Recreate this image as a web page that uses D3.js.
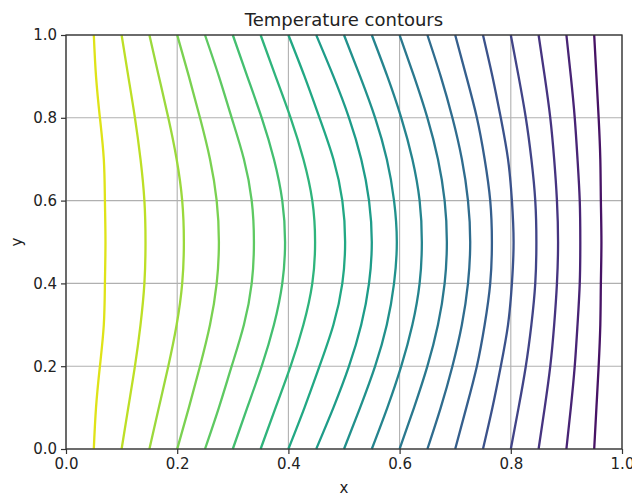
<!DOCTYPE html>
<html>
<head>
<meta charset="utf-8">
<script src="https://cdn.jsdelivr.net/npm/d3@7"></script>
<style>
  body { margin: 0; background: #fff; }
  svg { display: block; font-family: "DejaVu Sans", sans-serif; }
</style>
</head>
<body>
<svg id="chart" width="632" height="495"></svg>
<script>

var yLevels = [0, 0.1, 0.2, 0.3, 0.4, 0.5, 0.6, 0.7, 0.8, 0.9, 1.0];

// temperature value of each contour line (1 = hot side at x=0)
var tempLevels = [0.95, 0.90, 0.85, 0.80, 0.75, 0.70, 0.65, 0.60, 0.55, 0.50,
                  0.45, 0.40, 0.35, 0.30, 0.25, 0.20, 0.15, 0.10, 0.05];

// x position of each contour at the y levels above
var contourX = [
  [0.050, 0.054, 0.061, 0.068, 0.070, 0.071, 0.070, 0.068, 0.061, 0.054, 0.050],
  [0.100, 0.112, 0.124, 0.134, 0.141, 0.143, 0.141, 0.134, 0.124, 0.112, 0.100],
  [0.150, 0.167, 0.184, 0.199, 0.209, 0.212, 0.209, 0.199, 0.184, 0.167, 0.150],
  [0.200, 0.221, 0.241, 0.259, 0.271, 0.275, 0.271, 0.259, 0.241, 0.221, 0.200],
  [0.250, 0.275, 0.298, 0.320, 0.334, 0.338, 0.334, 0.320, 0.298, 0.275, 0.250],
  [0.300, 0.326, 0.352, 0.374, 0.389, 0.394, 0.389, 0.374, 0.352, 0.326, 0.300],
  [0.350, 0.377, 0.404, 0.427, 0.443, 0.448, 0.443, 0.427, 0.404, 0.377, 0.350],
  [0.400, 0.429, 0.456, 0.481, 0.497, 0.502, 0.497, 0.481, 0.456, 0.429, 0.400],
  [0.450, 0.481, 0.509, 0.531, 0.545, 0.550, 0.545, 0.531, 0.509, 0.481, 0.450],
  [0.500, 0.529, 0.556, 0.577, 0.590, 0.595, 0.590, 0.577, 0.556, 0.529, 0.500],
  [0.550, 0.578, 0.603, 0.623, 0.636, 0.640, 0.636, 0.623, 0.603, 0.578, 0.550],
  [0.600, 0.626, 0.650, 0.669, 0.681, 0.685, 0.681, 0.669, 0.650, 0.626, 0.600],
  [0.650, 0.674, 0.695, 0.712, 0.723, 0.727, 0.723, 0.712, 0.695, 0.674, 0.650],
  [0.700, 0.720, 0.739, 0.753, 0.763, 0.766, 0.763, 0.753, 0.739, 0.720, 0.700],
  [0.750, 0.767, 0.782, 0.795, 0.802, 0.805, 0.802, 0.795, 0.782, 0.767, 0.750],
  [0.800, 0.814, 0.827, 0.837, 0.844, 0.846, 0.844, 0.837, 0.827, 0.814, 0.800],
  [0.850, 0.861, 0.871, 0.878, 0.883, 0.885, 0.883, 0.878, 0.871, 0.861, 0.850],
  [0.900, 0.908, 0.915, 0.920, 0.924, 0.925, 0.924, 0.920, 0.915, 0.908, 0.900],
  [0.950, 0.954, 0.958, 0.961, 0.962, 0.963, 0.962, 0.961, 0.958, 0.954, 0.950]
];

var ticks = [0, 0.2, 0.4, 0.6, 0.8, 1.0];

var margin = {left: 66, right: 10, top: 35, bottom: 46};
var width = 632, height = 495;

var svg = d3.select('#chart');

var x = d3.scaleLinear().domain([0, 1]).range([margin.left, width - margin.right]);
var y = d3.scaleLinear().domain([0, 1]).range([height - margin.bottom, margin.top]);

// grid
var grid = svg.append('g').attr('stroke', '#b0b0b0').attr('stroke-width', 1.1);
grid.selectAll('line.gx').data(ticks).enter().append('line')
    .attr('x1', function(d){return x(d)}).attr('x2', function(d){return x(d)})
    .attr('y1', y(0)).attr('y2', y(1));
grid.selectAll('line.gy').data(ticks).enter().append('line')
    .attr('y1', function(d){return y(d)}).attr('y2', function(d){return y(d)})
    .attr('x1', x(0)).attr('x2', x(1));

// contours
var line = d3.line()
    .x(function(d){return x(d[0])})
    .y(function(d){return y(d[1])})
    .curve(d3.curveNatural);

svg.append('g').selectAll('path').data(contourX).enter().append('path')
    .attr('d', function(xs){
        return line(xs.map(function(v, i){return [v, yLevels[i]]}));
    })
    .attr('fill', 'none')
    .attr('stroke', function(d, i){return d3.interpolateViridis(tempLevels[i])})
    .attr('stroke-width', 2.3);

// axes
var xAxis = d3.axisBottom(x).tickValues(ticks).tickFormat(d3.format('.1f')).tickSizeOuter(0).tickSize(5).tickPadding(4);
var yAxis = d3.axisLeft(y).tickValues(ticks).tickFormat(d3.format('.1f')).tickSizeOuter(0).tickSize(5).tickPadding(4);

var gx = svg.append('g').attr('transform', 'translate(0,' + y(0) + ')').call(xAxis);
var gy = svg.append('g').attr('transform', 'translate(' + x(0) + ',0)').call(yAxis);
[gx, gy].forEach(function(g){
    g.selectAll('.domain').remove();
    g.selectAll('line').attr('stroke', '#333').attr('stroke-width', 1.2);
    g.selectAll('text').attr('fill', '#222').style('font-size', '15px').style('font-family', '"DejaVu Sans", sans-serif');
});

// frame
svg.append('rect')
    .attr('x', x(0)).attr('y', y(1))
    .attr('width', x(1) - x(0)).attr('height', y(0) - y(1))
    .attr('fill', 'none').attr('stroke', '#333').attr('stroke-width', 1.3);

svg.append('text').attr('x', (x(0) + x(1)) / 2).attr('y', 26)
    .attr('text-anchor', 'middle').style('font-size', '18px').attr('fill', '#222')
    .text('Temperature contours');

svg.append('text').attr('x', (x(0) + x(1)) / 2).attr('y', 493)
    .attr('text-anchor', 'middle').style('font-size', '15px').attr('fill', '#222')
    .text('x');

svg.append('text')
    .attr('transform', 'translate(22,' + ((y(0) + y(1)) / 2) + ') rotate(-90)')
    .attr('text-anchor', 'middle').style('font-size', '15px').attr('fill', '#222')
    .text('y');

</script>
</body>
</html>
